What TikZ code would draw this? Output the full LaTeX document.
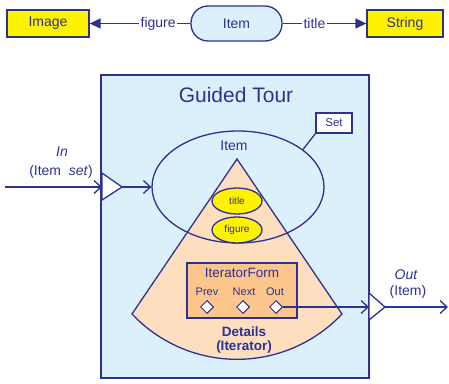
\documentclass[tikz,border=0pt]{standalone}
\usepackage{fontspec}
\setmainfont{Liberation Sans}
\usetikzlibrary{arrows.meta,shapes.geometric}
\definecolor{navy}{RGB}{46,49,146}
\definecolor{skyfill}{RGB}{220,240,252}
\definecolor{peach}{RGB}{253,222,190}
\definecolor{apricot}{RGB}{251,197,140}
\definecolor{lemon}{RGB}{255,242,0}
\newcommand{\fs}[1]{\fontsize{#1}{#1}\selectfont}
\tikzset{
  every node/.style={text=navy, font=\fs{14}},
  typebox/.style={draw=navy, fill=lemon, minimum width=#1, minimum height=27pt, inner sep=0pt},
  pill/.style={draw=navy, fill=skyfill, rounded corners=17pt, minimum width=91pt, minimum height=35pt, inner sep=0pt},
  tag/.style={fill=white, inner sep=1.5pt},
  flow/.style={draw=navy, -{Triangle[length=11pt,width=10pt]}},
  portflow/.style={draw=navy, -{Straight Barb[length=7pt,width=13pt]}},
  port/.style={draw=navy, fill=white},
  attr/.style={draw=navy, fill=lemon, ellipse, minimum width=50pt, minimum height=26pt, inner sep=0pt, font=\fs{10}},
  knob/.style={draw=navy, fill=white, diamond, minimum width=13pt, minimum height=13pt, inner sep=0pt, line width=1pt},
}
\begin{document}
\begin{tikzpicture}[x=1pt, y=1pt, line width=1.3pt]
\useasboundingbox (0,0) rectangle (449,383);

% schema row
\node[typebox=82pt] (image) at (48,359.5) {Image};
\node[pill] (item) at (236.5,359.5) {Item};
\node[typebox=76pt] (string) at (405,359.5) {String};
\draw[flow] (item) -- node[tag, pos=0.32] {figure} (image);
\draw[flow] (item) -- node[tag, pos=0.38] {title} (string);

% tour container
\node[draw=navy, fill=skyfill, minimum width=268pt, minimum height=303pt, inner sep=0pt] (tour) at (235,156.5) {};
\node[font=\fs{21}] (tourtitle) at (236,288) {Guided Tour};

% details sector
\draw[navy, fill=peach] (237,224) -- (132,69) arc[start angle=223.3, end angle=316.7, radius=144.3] -- cycle;

% item collection
\node[draw=navy, ellipse, minimum width=172pt, minimum height=112pt, inner sep=0pt] (coll) at (238,196) {};
\node (colllabel) at (234,237) {Item};
\node[draw=navy, fill=white, minimum width=36pt, minimum height=20pt, inner sep=0pt, font=\fs{11.5}] (set) at (334,260) {Set};
\draw[navy] (set.south west) -- (coll.30);

\node[attr] (title) at (237,182) {title};
\node[attr] (figure) at (237,153) {figure};

% iterator form
\node[draw=navy, fill=apricot, minimum width=110pt, minimum height=55pt, inner sep=0pt] (form) at (242,92.5) {};
\node[font=\fs{13.5}] (formlabel) at (242,110) {IteratorForm};
\node[font=\fs{11}] (prevlabel) at (207,91) {Prev};
\node[font=\fs{11}] (nextlabel) at (244,91) {Next};
\node[font=\fs{11}] (outlabel) at (275,91) {Out};
\node[knob] (prev) at (207,76) {};
\node[knob] (next) at (243,76) {};
\node[knob] (outd) at (276,76) {};
\node[font=\bfseries\fs{13.5}, align=center] (details) at (244,43) {Details\\(Iterator)};

% input port
\draw[port] (102,210) -- (122,196) -- (102,183) -- cycle;
\coordinate (inl) at (102,196);
\coordinate (intip) at (122,196);
\coordinate (instart) at (5,196);
\draw[portflow] (instart) -- (inl);
\draw[portflow] (intip) -- (coll.west);
\node[font=\itshape\fs{14}] (inname) at (62,231) {In};
\node (intype) at (61,211) {(Item\ \ \textit{set})};

% output port
\draw[port] (369,90) -- (385,76) -- (369,63) -- cycle;
\coordinate (outl) at (369,76);
\coordinate (outtip) at (385,76);
\coordinate (outend) at (448,76);
\draw[portflow] (outd.east) -- (outl);
\draw[portflow] (outtip) -- (outend);
\node[font=\itshape\fs{14}] (outname) at (406,108) {Out};
\node (outtype) at (408,91) {(Item)};
\end{tikzpicture}
\end{document}
